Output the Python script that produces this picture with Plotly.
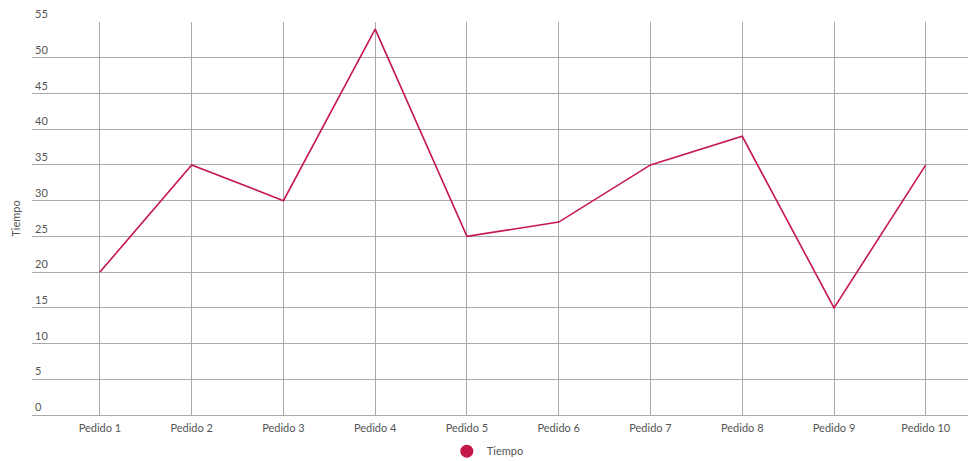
import plotly.graph_objects as go

categories = ["Pedido 1", "Pedido 2", "Pedido 3", "Pedido 4", "Pedido 5",
              "Pedido 6", "Pedido 7", "Pedido 8", "Pedido 9", "Pedido 10"]
tiempo = [20, 35, 30, 54, 25, 27, 35, 39, 15, 35]
y_ticks = [0, 5, 10, 15, 20, 25, 30, 35, 40, 45, 50, 55]

color = "#c5174a"
font = dict(family="Lato, Open Sans, sans-serif", size=11, color="#555555")

fig = go.Figure()
fig.add_trace(go.Scatter(x=categories, y=tiempo, mode="lines", name="Tiempo",
                         line=dict(color=color, width=1.6), showlegend=False))
fig.add_trace(go.Scatter(x=[None], y=[None], mode="markers", name="Tiempo",
                         marker=dict(color=color, size=13), showlegend=True))

# top tick label sits above the plot area, so draw it as an annotation
fig.add_annotation(x=0, xref="paper", y=y_ticks[-1], yref="y", text=str(y_ticks[-1]),
                   showarrow=False, xanchor="left", yanchor="bottom", xshift=1, yshift=0,
                   font=dict(size=11, color="#555555"))

fig.update_layout(
    width=968, height=461,
    margin=dict(l=32, r=0, t=22, b=46, autoexpand=False),
    plot_bgcolor="white", paper_bgcolor="white",
    font=font,
    showlegend=True,
    legend=dict(orientation="h", x=0.487, xanchor="center", y=-0.092, yanchor="middle",
                font=dict(size=11, color="#555555")),
    xaxis=dict(type="category", range=[-0.74, 9.46], showgrid=True, automargin=False,
               gridcolor="#aaaaaa", gridwidth=1, showline=True, linecolor="#aaaaaa",
               ticks="", ticklabelstandoff=3,
               tickfont=dict(size=11, color="#555555"), zeroline=False),
    yaxis=dict(range=[0, 55], tickvals=y_ticks, showgrid=True, gridcolor="#aaaaaa",
               gridwidth=1, zeroline=False, showline=False, automargin=False,
               ticklabelposition="inside top", tickfont=dict(size=11, color="#555555"),
               title=dict(text="Tiempo", font=dict(size=11, color="#555555"), standoff=12)),
)

fig.write_html("out.html")
